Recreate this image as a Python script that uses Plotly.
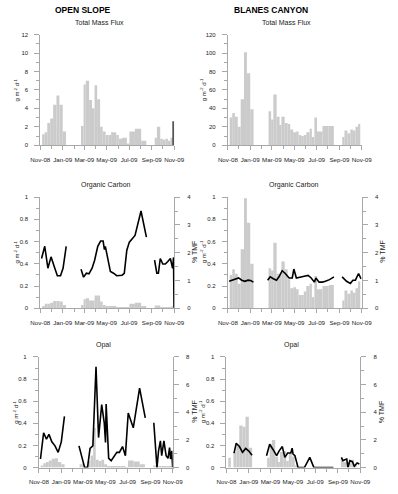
import plotly.graph_objects as go
import pandas as pd

W, H = 398, 494
BASE = pd.Timestamp("2008-11-01")

# ---------------- DATA (days since 1 Nov 2008) ----------------
# Open slope sampling periods
os_start = [5, 12, 19, 27, 35, 44, 52, 61,
            111, 118, 124, 133, 141, 148, 155, 163, 170, 178, 186, 193, 207, 214, 223, 236, 243, 258, 275,
            312, 318, 327, 334, 341, 348, 355, 362]
os_end = [12, 19, 27, 35, 44, 52, 61, 70,
          118, 124, 133, 141, 148, 155, 163, 170, 178, 186, 193, 207, 214, 223, 236, 243, 258, 275, 289,
          318, 327, 334, 341, 348, 355, 362, 363.2]
os_tmf = [1.2, 1.4, 2.4, 2.9, 4.4, 5.4, 4.4, 1.5,
          2.1, 6.6, 7.0, 4.9, 4.0, 6.5, 5.0, 2.0, 1.5, 1.1, 1.1, 1.4, 1.1, 0.7, 0.8, 0.2, 1.5, 1.8, 0.5,
          0.8, 2.0, 0.7, 0.6, 0.7, 0.5, 0.8, 2.6]
os_oc = [0.02, 0.04, 0.04, 0.05, 0.065, 0.065, 0.06, 0.03,
         0.03, 0.08, 0.09, 0.07, 0.07, 0.115, 0.115, 0.06, 0.03, 0.02, 0.02, 0.02, 0.01, 0.01, 0.01, 0.005, 0.04, 0.05, 0.02,
         0.025, 0.025, 0.01, 0.01, 0.01, 0.01, 0.015, 0.0]
os_opal = [0.02, 0.04, 0.05, 0.065, 0.08, 0.085, 0.05, 0.03,
           0.03, 0.04, 0.01, 0.06, 0.11, 0.36, 0.07, 0.06, 0.07, 0.03, 0.01, 0.01, 0.01, 0.01, 0.01, 0.005, 0.065, 0.055, 0.03,
           0.02, 0.02, 0.01, 0.01, 0.01, 0.01, 0.01, 0.0]

# Open slope % of TMF lines
os_oc_pct_day = [3.4, 12.1, 20.7, 29.3, 37.9, 46.5, 55.1, 62.0, 70.6, None,
                 111.1, 117.9, 125.7, 132.6, 141.2, 148.1, 156.7, 164.4, 171.3, 174.8, 177.3, 179.9, 184.2, 191.1,
                 199.7, 208.3, 223.0, 229.0, 235.9, 242.8, 258.3, 266.0, 274.6, 289.3, None,
                 311.6, 317.7, 322.0, 327.1, 334.0, 340.9, 347.8, 354.7, 360.7, 363.3, 364.6]
os_oc_pct = [1.79, 2.23, 1.44, 1.85, 1.50, 1.17, 1.17, 1.44, 2.23, None,
             1.40, 1.12, 1.26, 1.24, 1.44, 1.73, 2.23, 2.42, 2.42, 2.11, 2.23, 2.03, 1.83, 1.32,
             1.26, 1.17, 1.19, 1.26, 2.09, 2.38, 2.62, 3.09, 3.50, 2.56, None,
             1.73, 1.26, 1.26, 1.79, 1.59, 1.59, 1.68, 1.79, 1.44, 1.83, 0.02]
os_opal_pct_day = [4.3, 12.9, 20.7, 27.5, 35.3, 43.9, 52.5, 61.1, 69.7, None,
                   109.3, 117.9, 124.8, 132.6, 139.5, 147.2, 155.8, 162.7, 171.3, 178.2, 181.7, 183.4, 190.3, 197.1,
                   212.6, 219.5, 228.1, 235.9, 243.6, 257.4, 274.6, 290.1, None,
                   313.4, 317.7, 322.0, 326.3, 331.4, 334.9, 340.9, 346.9, 352.1, 356.4, 359.0, 362.4, 364.0, 364.8]
os_opal_pct = [0.62, 2.52, 2.05, 2.40, 1.86, 1.57, 1.10, 1.86, 3.71, None,
               1.57, 0.74, 0.0, 0.0, 1.38, 1.57, 7.29, 2.17, 4.55, 3.24, 1.81, 4.60, 0.67, 0.50,
               1.10, 1.10, 1.52, 0.86, 3.95, 2.88, 5.74, 3.60, None,
               3.24, 1.93, 0.0, 1.21, 1.93, 0.86, 1.93, 0.86, 0.67, 1.45, 0.62, 1.21, 0.14, 0.0]

# Blanes canyon sampling periods
bc_start = [5, 12, 19, 27, 35, 44, 52, 61,
            111, 118, 124, 133, 141, 146, 155, 163, 170, 178, 186, 193, 200, 207, 214, 223, 229, 236, 243, 258, 275,
            312, 318, 326, 334, 341, 348, 355]
bc_end = [12, 19, 27, 35, 44, 52, 61, 70,
          118, 124, 133, 141, 146, 155, 163, 170, 178, 186, 193, 200, 207, 214, 223, 229, 236, 243, 258, 275, 289,
          318, 326, 334, 341, 348, 355, 361]
bc_tmf = [30, 35, 31, 20, 50, 101, 78, 39,
          37, 28, 55, 31, 22, 31, 24, 23, 17, 14, 15, 11, 10, 11, 14, 18, 9, 30, 15, 21, 21,
          9, 16, 13, 17, 16, 20, 23]
bc_oc = [0.30, 0.35, 0.31, 0.22, 0.53, 0.99, 0.77, 0.40,
         0.36, 0.34, 0.59, 0.31, 0.31, 0.42, 0.35, 0.26, 0.18, 0.19, 0.17, 0.12, 0.12, 0.15, 0.20, 0.22, 0.10, 0.29, 0.17, 0.20, 0.21,
         0.07, 0.16, 0.13, 0.16, 0.14, 0.18, 0.24]
bc_opal = [0.09, 0.0, 0.14, 0.20, 0.38, 0.37, 0.46, 0.18,
           0.09, 0.21, 0.25, 0.10, 0.05, 0.14, 0.15, 0.06, 0.13, 0.10, 0.02, 0.005, 0.0, 0.0, 0.0, 0.0, 0.0, 0.0, 0.0, 0.0, 0.0,
           0.08, 0.05, 0.05, 0.04, 0.07, 0.03, 0.0]

bc_oc_pct_day = [3.4, 12.1, 20.7, 29.3, 37.9, 46.5, 55.1, 62.0, 69.7, None,
                 108.5, 115.4, 124.0, 132.6, 139.5, 148.1, 156.7, 167.0, 175.6, 179.9, 186.8, 197.1, 208.3,
                 218.7, 227.3, 235.9, 240.2, 248.8, 257.4, 266.0, 277.2, 289.3, None,
                 311.6, 317.7, 323.7, 334.0, 340.9, 347.8, 356.4, 363.3]
bc_oc_pct = [0.97, 1.01, 1.03, 1.09, 1.01, 0.97, 1.01, 1.00, 0.94, None,
             1.01, 1.13, 1.06, 1.01, 1.13, 1.35, 1.25, 1.09, 1.09, 1.41, 1.09, 1.13, 1.15,
             1.18, 1.09, 0.94, 1.09, 0.94, 0.94, 0.97, 1.03, 1.13, None,
             1.13, 1.03, 0.97, 0.89, 1.01, 1.01, 1.25, 1.06]
bc_opal_pct_day = [20.7, 26.7, 35.3, 43.9, 52.5, 61.1, 69.7, None,
                   109.3, 117.9, 126.5, 136.9, 143.8, 152.4, 159.3, 167.0, 175.6, 179.1, 181.7, 186.8, 195.4,
                   212.6, 227.3, 238.5, 291.8, None,
                   313.4, 317.7, 322.8, 328.0, 331.4, 336.6, 343.5, 348.7, 356.4, 362.4]
bc_opal_pct = [1.05, 1.76, 1.52, 1.10, 1.38, 1.19, 0.90, None,
               0.86, 1.69, 1.33, 0.86, 1.21, 1.52, 0.74, 1.05, 1.05, 1.40, 0.98, 0.86, 0.0,
               0.0, 0.74, 0.0, 0.0, None,
               0.74, 0.50, 0.57, 0.62, 0.02, 0.50, 0.43, 0.10, 0.33, 0.26]

# ---------------- helpers ----------------
def to_date(d):
    return None if d is None else BASE + pd.Timedelta(days=d)

def mids(s, e):
    return [to_date((a + b) / 2) for a, b in zip(s, e)]

def widths(s, e):
    return [(b - a) * 86400000 for a, b in zip(s, e)]

def px_x(a, b):
    return [a / W, b / W]

def px_y(top, bottom):
    return [1 - bottom / H, 1 - top / H]

FONT = "Liberation Sans, Arial, sans-serif"
AX = "#a8a8a8"
BAR = "#cbcbcb"
TXT = "#222222"

fig = go.Figure()

def bar_colors(s, e):
    return ["#555555" if (b - a) < 2 else BAR for a, b in zip(s, e)]

def add_bars(s, e, v, xa, ya):
    fig.add_trace(go.Bar(x=mids(s, e), y=v, width=widths(s, e), marker_color=bar_colors(s, e),
                         marker_line_width=0, xaxis=xa, yaxis=ya, showlegend=False))

def add_line(days, vals, xa, ya):
    fig.add_trace(go.Scatter(x=[to_date(d) for d in days], y=vals, mode="lines",
                             line=dict(color="black", width=1.6), connectgaps=False,
                             xaxis=xa, yaxis=ya, showlegend=False, cliponaxis=True))

add_bars(os_start, os_end, os_tmf, "x", "y")
add_bars(bc_start, bc_end, bc_tmf, "x2", "y2")
add_bars(os_start, os_end, os_oc, "x3", "y3")
add_line(os_oc_pct_day, os_oc_pct, "x3", "y4")
add_bars(bc_start, bc_end, bc_oc, "x4", "y5")
add_line(bc_oc_pct_day, bc_oc_pct, "x4", "y6")
add_bars(os_start, os_end, os_opal, "x5", "y7")
add_line(os_opal_pct_day, os_opal_pct, "x5", "y8")
add_bars(bc_start, bc_end, bc_opal, "x6", "y9")
add_line(bc_opal_pct_day, bc_opal_pct, "x6", "y10")

tickfont = dict(family=FONT, size=6.2, color=TXT)
ytickfont = dict(family=FONT, size=6, color=TXT)

def xaxis(dom, anchor):
    return dict(type="date", domain=dom, anchor=anchor,
                range=["2008-11-01", "2009-11-01"],
                showline=True, linecolor=AX, linewidth=1, ticks="outside", ticklen=4,
                tickcolor=AX, tickwidth=1, dtick="M2", tick0="2008-11-01", tickformat="%b-%y",
                tickangle=0, tickfont=tickfont,
                minor=dict(dtick="M1", ticks="outside", ticklen=3, tickcolor=AX),
                showgrid=False, zeroline=False, ticklabelstandoff=4)

def yaxis(dom, anchor, rng, dt, mdt, side="left", overlay=None):
    d = dict(domain=dom, anchor=anchor, range=rng, showline=True, linecolor=AX, linewidth=1,
             ticks="outside", ticklen=5, tickcolor=AX, dtick=dt, tick0=0, tickfont=ytickfont,
             minor=dict(dtick=mdt, ticks="outside", ticklen=3, tickcolor=AX),
             showgrid=False, zeroline=False, side=side, tickangle=0,
             ticklabelstandoff=5 if side == "left" else 6)
    if overlay:
        d["overlaying"] = overlay
    return d

# geometry (pixels)
LX = px_x(32, 173.3)
RX = px_x(230, 371.3)
LXb = px_x(30.5, 171.8)
RXb = px_x(228.5, 369.8)
TOPY = px_y(32, 144)
MIDY = px_y(196.5, 309)
BOTY = px_y(358.3, 470.3)

layout = dict(
    width=W, height=H, margin=dict(l=0, r=0, t=0, b=0),
    paper_bgcolor="white", plot_bgcolor="white", barmode="overlay",
    font=dict(family=FONT, color=TXT),
    xaxis=xaxis(LX, "y"),
    xaxis2=xaxis(RX, "y2"),
    xaxis3=xaxis(LX, "y3"),
    xaxis4=xaxis(RX, "y5"),
    xaxis5=xaxis(LXb, "y7"),
    xaxis6=xaxis(RXb, "y9"),
    yaxis=yaxis(TOPY, "x", [0, 12], 2, 1),
    yaxis2=yaxis(TOPY, "x2", [0, 120], 20, 10),
    yaxis3=yaxis(MIDY, "x3", [0, 1], 0.2, 0.1),
    yaxis4=yaxis(MIDY, "x3", [0, 4], 1, 0.5, side="right", overlay="y3"),
    yaxis5=yaxis(MIDY, "x4", [0, 1], 0.2, 0.1),
    yaxis6=yaxis(MIDY, "x4", [0, 4], 1, 0.5, side="right", overlay="y5"),
    yaxis7=yaxis(BOTY, "x5", [0, 1], 0.2, 0.1),
    yaxis8=yaxis(BOTY, "x5", [0, 8], 2, 1, side="right", overlay="y7"),
    yaxis9=yaxis(BOTY, "x6", [0, 1], 0.2, 0.1),
    yaxis10=yaxis(BOTY, "x6", [0, 8], 2, 1, side="right", overlay="y9"),
)
fig.update_layout(**layout)

def ann(text, x, y, size, bold=False, angle=0):
    fig.add_annotation(text=f"<b>{text}</b>" if bold else text, x=x / W, y=1 - y / H,
                       xref="paper", yref="paper", showarrow=False, textangle=angle,
                       font=dict(family=FONT, size=size, color="black" if bold else TXT),
                       xanchor="center", yanchor="middle")

ann("OPEN SLOPE", 77, 7, 8.5, bold=True)
ann("BLANES CANYON", 276, 7, 8.5, bold=True)
ann("Total Mass Flux", 95, 20, 7)
ann("Total Mass Flux", 292, 20, 7)
ann("Organic Carbon", 101, 184, 7)
ann("Organic Carbon", 300, 184, 7)
ann("Opal", 99, 346, 7)
ann("Opal", 297, 346, 7)

ylab = "g m<sup>-2</sup> d<sup>-1</sup>"
ann(ylab, 7, 88, 6, angle=-90)
ann(ylab, 204, 88, 6, angle=-90)
ann(ylab, 7, 252, 6, angle=-90)
ann(ylab, 204, 252, 6, angle=-90)
ann(ylab, 6, 414, 6, angle=-90)
ann(ylab, 203, 414, 6, angle=-90)
ann("% TMF", 195.5, 252, 7, angle=-90)
ann("% TMF", 393.5, 252, 7, angle=-90)
ann("% TMF", 195, 414, 7, angle=-90)
ann("% TMF", 393, 414, 7, angle=-90)

fig.write_html("out.html")
